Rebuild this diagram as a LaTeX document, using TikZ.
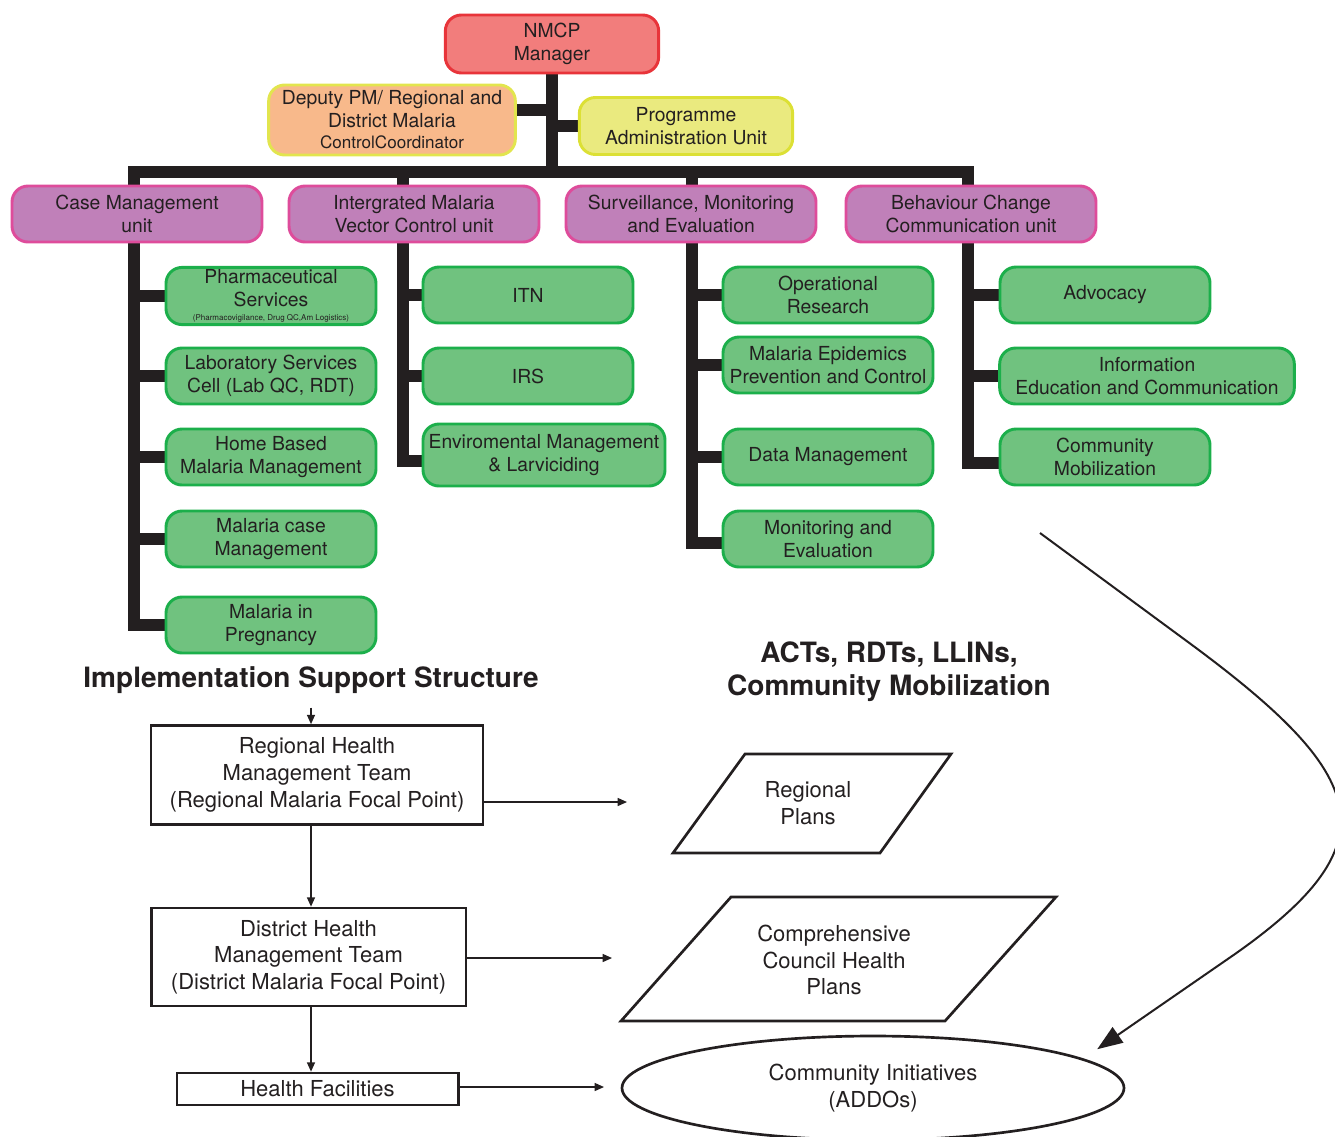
\documentclass[tikz,border=0pt]{standalone}
\usepackage{fontspec}
\setmainfont{TeX Gyre Heros}
\usetikzlibrary{shapes.geometric,arrows.meta,backgrounds}
\definecolor{ink}{HTML}{231F20}
\definecolor{mgrfill}{HTML}{F27D7C}
\definecolor{mgrline}{HTML}{E8343A}
\definecolor{depfill}{HTML}{F8B98B}
\definecolor{depline}{HTML}{E2E54E}
\definecolor{admfill}{HTML}{EAEA7F}
\definecolor{admline}{HTML}{DCE035}
\definecolor{unitfill}{HTML}{C080B9}
\definecolor{unitline}{HTML}{DE4C9B}
\definecolor{subfill}{HTML}{70C27F}
\definecolor{subline}{HTML}{1CAF4B}
\begin{document}
\begin{tikzpicture}[x=0.75pt,y=-0.75pt,
	every node/.style={text=ink,align=center},
	box/.style={rounded corners=12pt,line width=2.2pt,inner sep=1.5pt,font=\fontsize{14.5}{17.25}\selectfont},
	mgr/.style={box,draw=mgrline,fill=mgrfill,minimum width=160pt,minimum height=43.5pt},
	dep/.style={box,draw=depline,fill=depfill,minimum width=185pt,minimum height=52.5pt},
	adm/.style={box,draw=admline,fill=admfill,minimum width=160pt,minimum height=42.75pt},
	unit/.style={box,draw=unitline,fill=unitfill,minimum width=187.5pt,minimum height=42pt},
	sub/.style={box,draw=subline,fill=subfill,minimum width=157.5pt,minimum height=42pt},
	trunk/.style={draw=ink,line width=8.5pt,line join=miter},
	title/.style={font=\bfseries\fontsize{21}{25}\selectfont},
	level/.style={draw=ink,line width=2pt,inner sep=2pt,font=\fontsize{16.5}{20}\selectfont},
	plan/.style={font=\fontsize{16.5}{20}\selectfont},
	planline/.style={draw=ink,line width=2pt,line join=miter},
	arr/.style={draw=ink,line width=1pt,-{Triangle[length=7pt,width=6pt]}},
	bigarr/.style={draw=ink,line width=1.5pt,-{Triangle[length=19pt,width=14pt]}}]
	\useasboundingbox (0,0) rectangle (1335,1136);

	% management
	\node[mgr] (nmcp) at (552,44) {NMCP\\Manager};
	\node[dep] (dpm) at (392,120) {Deputy PM/ Regional and\\District Malaria\\[-1.5pt]{\fontsize{12.8}{15}\selectfont ControlCoordinator}};
	\node[adm] (pau) at (686,126) {Programme\\Administration Unit};

	% units
	\node[unit] (cm) at (137,214) {Case Management\\unit};
	\node[unit] (imvc) at (414,214) {Intergrated Malaria\\Vector Control unit};
	\node[unit] (sme) at (691,214) {Surveillance, Monitoring\\and Evaluation};
	\node[unit] (bcc) at (971,214) {Behaviour Change\\Communication unit};

	% case management
	\node[sub] (pharm) at (271,296) {Pharmaceutical\\Services\\[-6.5pt]{\fontsize{6}{7}\selectfont (Pharmacovigilance, Drug QC,Am Logistics)}};
	\node[sub] (lab) at (271,376) {Laboratory Services\\Cell (Lab QC, RDT)};
	\node[sub] (hbmm) at (271,457) {Home Based\\Malaria Management};
	\node[sub] (mcm) at (271,539) {Malaria case\\Management};
	\node[sub] (mip) at (271,625) {Malaria in\\Pregnancy};

	% vector control
	\node[sub] (itn) at (528,295) {ITN};
	\node[sub] (irs) at (528,376) {IRS};
	\node[sub,minimum width=181.5pt,minimum height=46.5pt] (env) at (544,455) {Enviromental Management\\\& Larviciding};

	% surveillance
	\node[sub] (opr) at (828,295) {Operational\\Research};
	\node[sub] (mepc) at (828,365) {Malaria Epidemics\\Prevention and Control};
	\node[sub] (dm) at (828,457) {Data Management};
	\node[sub] (me) at (828,539) {Monitoring and\\Evaluation};

	% behaviour change
	\node[sub] (adv) at (1105,295) {Advocacy};
	\node[sub,minimum width=221pt] (iec) at (1147,376) {Information\\Education and Communication};
	\node[sub] (cmob) at (1105,457) {Community\\Mobilization};

	\begin{pgfonlayer}{background}
		\coordinate (c1) at (134,172);
		\coordinate (c2) at (403,172);
		\coordinate (c3) at (692,172);
		\coordinate (c4) at (968,172);
		\coordinate (dpmr) at ([yshift=7.5pt]dpm.east);
		\draw[trunk] (nmcp.south) -- (nmcp.south |- c1);
		\draw[trunk] (dpmr) -- (nmcp.south |- dpmr);
		\draw[trunk] (nmcp.south |- pau.west) -- (pau.west);
		\draw[trunk] (c1 |- cm.center) -- (c1) -- (c4) -- (c4 |- bcc.center);
		\draw[trunk] (c2) -- (c2 |- imvc.center);
		\draw[trunk] (c3) -- (c3 |- sme.center);
		\draw[trunk] (c1 |- cm.south) |- (mip.west);
		\foreach \n in {pharm,lab,hbmm,mcm}
			\draw[trunk] (c1 |- \n.west) -- (\n.west);
		\draw[trunk] (c2 |- imvc.south) |- ([yshift=-4.5pt]env.west);
		\foreach \n in {itn,irs}
			\draw[trunk] (c2 |- \n.west) -- (\n.west);
		\draw[trunk] (c3 |- sme.south) |- ([yshift=-3pt]me.west);
		\foreach \n in {opr,mepc,dm}
			\draw[trunk] (c3 |- \n.west) -- (\n.west);
		\draw[trunk] (c4 |- bcc.south) |- ([yshift=-4.5pt]cmob.west);
		\foreach \n in {adv,iec}
			\draw[trunk] (c4 |- \n.west) -- (\n.west);
	\end{pgfonlayer}

	% implementation
	\node[title] (iss) at (311,680) {Implementation Support Structure};
	\node[title] (acts) at (889,672) {ACTs, RDTs, LLINs,\\Community Mobilization};

	\node[level,minimum width=249pt,minimum height=74.25pt] (rhmt) at (317,775) {Regional Health\\Management Team\\(Regional Malaria Focal Point)};
	\node[level,minimum width=236pt,minimum height=73.5pt] (dhmt) at (308.5,957) {District Health\\Management Team\\(District Malaria Focal Point)};
	\node[level,minimum width=211pt,minimum height=24pt] (hf) at (317.5,1089) {Health Facilities};

	\node[plan] (rp) at (808,803) {Regional\\Plans};
	\draw[planline] (673,853) -- (745,754) -- (951,754) -- (880,853) -- cycle;
	\node[plan] (cchp) at (834,960) {Comprehensive\\Council Health\\Plans};
	\draw[planline] (621,1021) -- (731,897) -- (1056,897) -- (945,1021) -- cycle;
	\node[ellipse,draw=ink,line width=2pt,minimum width=376.5pt,minimum height=78pt,plan] (ci) at (873,1088) {Community Initiatives\\(ADDOs)};

	\coordinate (rpin) at (627,802);
	\coordinate (cchpin) at (612,958);
	\coordinate (ciin) at (604,1087);
	\coordinate (flow) at (1040,533);
	\draw[arr] ([yshift=-7pt]iss.south) -- (iss.south |- rhmt.north);
	\draw[arr] (rhmt.south -| iss.south) -- (dhmt.north -| iss.south);
	\draw[arr] (dhmt.south -| iss.south) -- (hf.north -| iss.south);
	\draw[arr] (rhmt.east |- rpin) -- (rpin);
	\draw[arr] (dhmt.east |- cchpin) -- (cchpin);
	\draw[arr] (hf.east |- ciin) -- (ciin);
	\draw[bigarr] (flow) -- (1188,642) .. controls (1370,776) and (1394,842) .. (1235,954) -- ([shift={(6,-12)}]ci.7);
\end{tikzpicture}
\end{document}
